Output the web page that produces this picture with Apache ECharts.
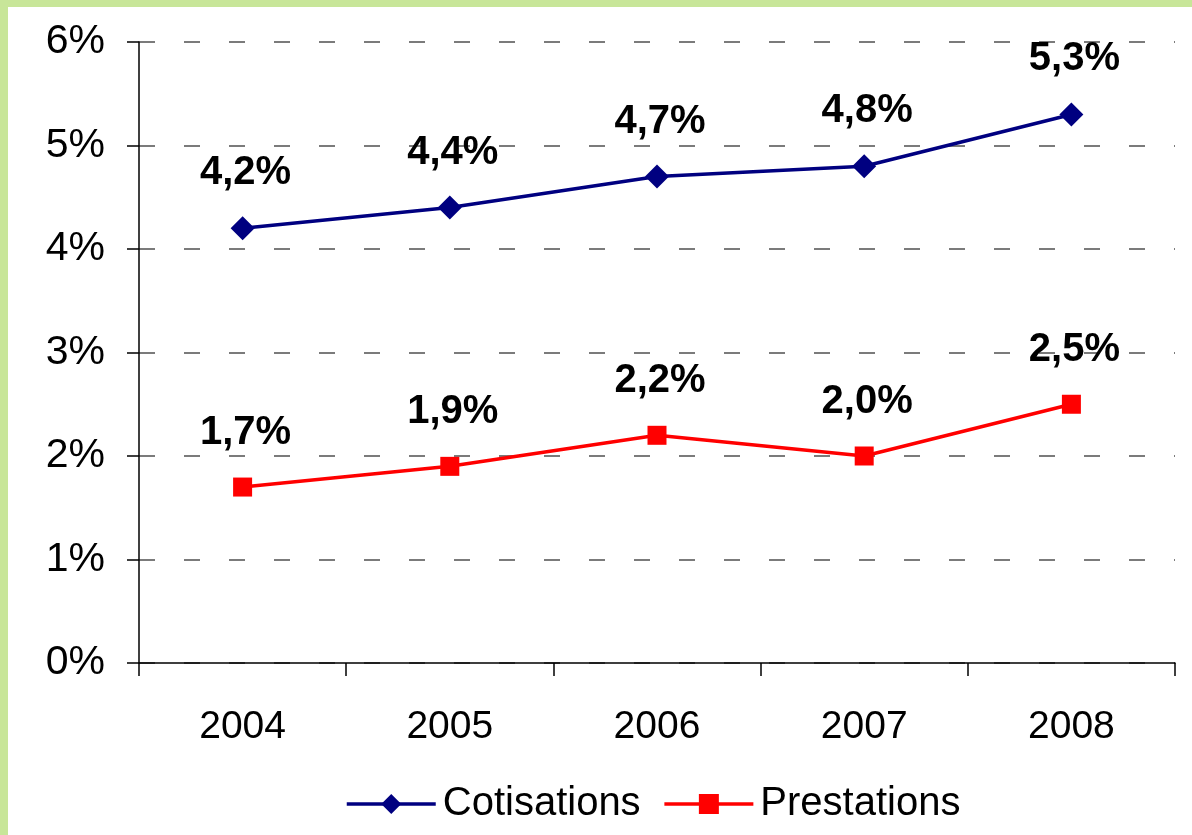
<!DOCTYPE html>
<html>
<head>
<meta charset="utf-8">
<script src="https://cdn.jsdelivr.net/npm/echarts@6/dist/echarts.min.js"></script>
<style>
  html, body { margin: 0; padding: 0; background: #ffffff; }
  #chart { width: 1192px; height: 835px; }
</style>
</head>
<body>
<div id="chart"></div>
<script>
// Years on the horizontal axis
const years = ['2004', '2005', '2006', '2007', '2008'];
// Annual growth, in percent
const cotisations = [4.2, 4.4, 4.7, 4.8, 5.3];
const prestations = [1.7, 1.9, 2.2, 2.0, 2.5];
// Vertical axis range
const yMin = 0, yMax = 6, yStep = 1;

const FONT = '"Liberation Sans", Arial, sans-serif';
const fmtPct = v => v.toFixed(1).replace('.', ',') + '%';

const chart = echarts.init(document.getElementById('chart'));
chart.setOption({
  backgroundColor: '#ffffff',
  animation: false,
  textStyle: { fontFamily: FONT, color: '#000' },
  graphic: [
    { type: 'rect', left: 0, top: 0, shape: { width: 1192, height: 7 }, style: { fill: '#C8E699' }, z: 100 },
    { type: 'rect', left: 0, top: 0, shape: { width: 8, height: 835 }, style: { fill: '#C8E699' }, z: 100 }
  ],
  grid: { left: 139, right: 17, top: 42, bottom: 172, containLabel: false },
  legend: {
    left: 340,
    top: 779,
    itemWidth: 89,
    itemHeight: 25,
    itemGap: 22,
    lineStyle: { width: 3.5 },
    textStyle: { fontFamily: FONT, fontSize: 40, color: '#000', padding: [0, 0, 0, 2] },
    data: ['Cotisations', 'Prestations']
  },
  xAxis: {
    type: 'category',
    data: years,
    boundaryGap: true,
    axisLine: { lineStyle: { color: '#000', width: 1.5 } },
    axisTick: { show: true, length: 13, alignWithLabel: false, lineStyle: { color: '#000', width: 1.5 } },
    axisLabel: { fontFamily: FONT, fontSize: 39, color: '#000', margin: 45 },
    splitLine: { show: false }
  },
  yAxis: {
    type: 'value',
    min: yMin,
    max: yMax,
    interval: yStep,
    axisLine: { show: true, lineStyle: { color: '#000', width: 1.5 } },
    axisTick: { show: true, length: 12, lineStyle: { color: '#000', width: 1.5 } },
    axisLabel: { fontFamily: FONT, fontSize: 41, color: '#000', margin: 34, padding: [8, 0, 0, 0], formatter: '{value}%' },
    splitLine: { show: true, lineStyle: { color: '#505050', width: 1.5, type: [16, 29] } }
  },
  series: [
    {
      name: 'Cotisations',
      type: 'line',
      data: cotisations,
      symbol: 'diamond',
      symbolSize: 24,
      lineStyle: { color: '#000080', width: 3.5 },
      itemStyle: { color: '#000080' },
      label: {
        show: true,
        position: 'top',
        distance: 23,
        offset: [3, 0],
        fontFamily: FONT,
        fontSize: 40,
        fontWeight: 'bold',
        color: '#000',
        formatter: p => fmtPct(p.value)
      }
    },
    {
      name: 'Prestations',
      type: 'line',
      data: prestations,
      symbol: 'rect',
      symbolSize: 19,
      lineStyle: { color: '#ff0000', width: 3.5 },
      itemStyle: { color: '#ff0000' },
      label: {
        show: true,
        position: 'top',
        distance: 25,
        offset: [3, 0],
        fontFamily: FONT,
        fontSize: 40,
        fontWeight: 'bold',
        color: '#000',
        formatter: p => fmtPct(p.value)
      }
    }
  ]
});
</script>
</body>
</html>
